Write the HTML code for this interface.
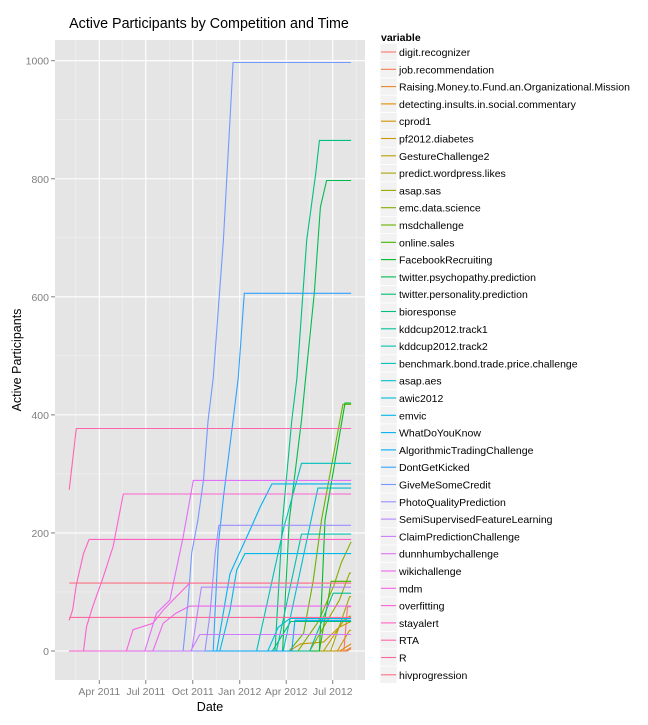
<!DOCTYPE html>
<html><head><meta charset="utf-8"><style>
body{margin:0;background:#fff;font-family:"Liberation Sans",Arial,sans-serif;}
svg text{font-family:"Liberation Sans",Arial,sans-serif;}
</style></head><body>
<svg id="chart" width="648" height="720" xmlns="http://www.w3.org/2000/svg">
<rect width="648" height="720" fill="#fff"/>
<text x="209" y="28" text-anchor="middle" font-size="14.3" fill="#000">Active Participants by Competition and Time</text>
<rect x="55" y="40" width="310" height="640" fill="#E5E5E5"/>
<g id="grid"></g><g id="lines"></g><g id="axes"></g><g id="legend"></g>
<text x="210" y="711" text-anchor="middle" font-size="12.5" fill="#000">Date</text>
<text transform="translate(21,360) rotate(-90)" text-anchor="middle" font-size="12.5" fill="#000">Active Participants</text>
<text x="381" y="41" font-size="10.5" font-weight="bold" fill="#000">variable</text>
</svg>
<script>
const yTicks=[0,200,400,600,800,1000];
const yMinor=[100,300,500,700,900];
const xTickLabels=["Apr 2011","Jul 2011","Oct 2011","Jan 2012","Apr 2012","Jul 2012"];
const xTickDates=["2011-04-01","2011-07-01","2011-10-01","2012-01-01","2012-04-01","2012-07-01"];
const xMinorDates=["2011-02-14","2011-05-16","2011-08-16","2011-11-16","2012-02-15","2012-05-16","2012-08-16"];
const startDate="2011-02-01", endDate="2012-08-06";
const names=["digit.recognizer","job.recommendation","Raising.Money.to.Fund.an.Organizational.Mission","detecting.insults.in.social.commentary","cprod1","pf2012.diabetes","GestureChallenge2","predict.wordpress.likes","asap.sas","emc.data.science","msdchallenge","online.sales","FacebookRecruiting","twitter.psychopathy.prediction","twitter.personality.prediction","bioresponse","kddcup2012.track1","kddcup2012.track2","benchmark.bond.trade.price.challenge","asap.aes","awic2012","emvic","WhatDoYouKnow","AlgorithmicTradingChallenge","DontGetKicked","GiveMeSomeCredit","PhotoQualityPrediction","SemiSupervisedFeatureLearning","ClaimPredictionChallenge","dunnhumbychallenge","wikichallenge","mdm","overfitting","stayalert","RTA","R","hivprogression"];
const seriesDates=[
["2012-07-23","2012-07-30"],
["2012-07-30","2012-08-06"],
["2012-07-25","2012-08-06"],
["2012-07-15","2012-08-06"],
["2012-07-10","2012-08-03"],
["2012-04-07","2012-04-29","2012-06-13","2012-07-13","2012-08-06"],
["2012-06-13","2012-07-23","2012-08-03"],
["2012-06-27","2012-08-03"],
["2012-05-17","2012-07-14","2012-08-03"],
["2012-04-24","2012-06-03","2012-07-03","2012-07-18","2012-08-06"],
["2012-04-07","2012-05-05","2012-05-24","2012-06-09","2012-07-21"],
["2012-06-05","2012-06-28"],
["2012-06-05","2012-06-16","2012-07-25"],
["2012-03-25","2012-04-07","2012-05-01","2012-05-09","2012-05-26","2012-06-07","2012-06-19"],
["2012-03-05","2012-04-10"],
["2012-03-10","2012-03-25","2012-04-12","2012-04-22","2012-05-11","2012-05-29","2012-06-05"],
["2012-05-17","2012-07-02"],
["2012-03-13","2012-05-01"],
["2012-02-03","2012-03-26","2012-05-01"],
["2012-03-26","2012-06-02"],
["2012-02-25","2012-03-16","2012-04-08"],
["2011-11-23","2011-12-13","2011-12-26","2012-01-11"],
["2011-11-17","2011-12-13","2012-01-21","2012-02-10","2012-03-04"],
["2012-04-12","2012-04-18"],
["2011-11-10","2011-11-20","2011-11-30","2011-12-19","2011-12-29","2012-01-10"],
["2011-09-12","2011-09-22","2011-09-29","2011-10-11","2011-10-22","2011-10-31","2011-11-10","2011-11-30","2011-12-19"],
["2011-10-25","2011-11-04","2011-11-14","2011-11-21"],
["2011-09-29","2011-10-15","2011-10-18"],
["2011-09-27","2011-10-15"],
["2011-06-29","2011-07-22","2011-08-17","2011-09-12","2011-10-02"],
["2011-07-15","2011-08-04","2011-08-29","2011-09-25"],
["2011-05-24","2011-06-06","2011-07-15","2011-08-04","2011-08-23","2011-09-25"],
["2011-03-01","2011-03-07","2011-03-19","2011-04-09","2011-04-28","2011-05-18"],
["2011-02-01","2011-02-08","2011-02-15","2011-03-01","2011-03-12"],
["2011-02-01","2011-02-15"],
["2011-02-01"],
["2011-02-01"]];
const seriesValues=[
[0,75],[0,4],[0,6],[0,12],[0,35],[0,12,15,40,50],[0,52,59],[0,92],[0,86,132],[0,50,110,150,185],
[0,30,120,222,418],[0,118],[0,222,420],[0,222,391,462,606,752,797],[0,50],[0,222,391,462,696,810,865],
[0,98],[0,198],[0,205,318],[0,276],[0,40,55],[0,69,137,165],[0,131,205,244,283],[0,52],
[0,180,260,391,462,606],[0,86,166,222,290,391,462,696,997],[0,64,166,213],[0,92,108],[0,28],
[0,64,86,193,289],[0,47,64,76],[0,36,47,69,86,115],[0,41,75,126,177,266],[52,70,112,165,189],
[273,377],[57],[115]];

const NS="http://www.w3.org/2000/svg";
const t=s=>Date.UTC(+s.slice(0,4),+s.slice(5,7)-1,+s.slice(8,10));
const X0=t("2011-04-01"),X1=t("2012-07-01"),PX0=99.3,PX1=332.7;
const xS=s=>PX0+(t(s)-X0)/(X1-X0)*(PX1-PX0);
const yS=v=>651-v*0.5903;
function mk(tag,attrs,parent){const e=document.createElementNS(NS,tag);for(const k in attrs)e.setAttribute(k,attrs[k]);parent.appendChild(e);return e;}
function hcl(h){const L=65,C=100,hr=h*Math.PI/180;const u=C*Math.cos(hr),v=C*Math.sin(hr);
const Xn=95.047,Yn=100,Zn=108.883,d=Xn+15*Yn+3*Zn,un=4*Xn/d,vn=9*Yn/d;
const Y=Yn*Math.pow((L+16)/116,3),up=u/(13*L)+un,vp=v/(13*L)+vn;
const X=Y*9*up/(4*vp),Z=Y*(12-3*up-20*vp)/(4*vp);
const x=X/100,y=Y/100,z=Z/100;
let r=3.2406*x-1.5372*y-0.4986*z,g=-0.9689*x+1.8758*y+0.0415*z,b=0.0557*x-0.2040*y+1.0570*z;
const gm=c=>{c=c<=0.0031308?12.92*c:1.055*Math.pow(c,1/2.4)-0.055;return Math.round(Math.max(0,Math.min(1,c))*255);};
return `rgb(${gm(r)},${gm(g)},${gm(b)})`;}
const n=names.length;const colors=names.map((_,i)=>hcl(15+360*i/n));

const grid=document.getElementById('grid');
yMinor.forEach(v=>{const l=mk('line',{x1:55,x2:365,y1:yS(v),y2:yS(v),stroke:'#F2F2F2','stroke-width':0.6},grid);

});
xMinorDates.forEach(d=>{const x=xS(d);if(x<55||x>365)return;const l=mk('line',{x1:x,x2:x,y1:40,y2:680,stroke:'#F2F2F2','stroke-width':0.6},grid);

});
yTicks.forEach(v=>{const l=mk('line',{x1:55,x2:365,y1:yS(v),y2:yS(v),stroke:'#fff','stroke-width':1.1},grid);

});
xTickDates.forEach(d=>{const l=mk('line',{x1:xS(d),x2:xS(d),y1:40,y2:680,stroke:'#fff','stroke-width':1.1},grid);

});

const axes=document.getElementById('axes');
yTicks.forEach(v=>{const tk=mk('line',{x1:51,x2:55,y1:yS(v),y2:yS(v),stroke:'#7f7f7f','stroke-width':1},axes);


const tx=mk('text',{x:49,y:yS(v)+4,'text-anchor':'end','font-size':10.5,fill:'#7f7f7f'},axes);tx.textContent=v;

});
xTickDates.forEach((d,i)=>{const tk=mk('line',{x1:xS(d),x2:xS(d),y1:680,y2:684,stroke:'#7f7f7f','stroke-width':1},axes);


const tx=mk('text',{x:xS(d),y:695,'text-anchor':'middle','font-size':10.5,fill:'#7f7f7f'},axes);tx.textContent=xTickLabels[i];

});

const lines=document.getElementById('lines');
names.forEach((nm,i)=>{const ds=seriesDates[i],vs=seriesValues[i];
const pts=[];if(ds[0]!==startDate)pts.push([startDate,vs[0]]);
ds.forEach((d,j)=>pts.push([d,vs[j]]));pts.push([endDate,vs[vs.length-1]]);
const p=mk('polyline',{points:pts.map(q=>xS(q[0]).toFixed(1)+','+yS(q[1]).toFixed(1)).join(' '),fill:'none',stroke:colors[i],'stroke-width':1.1},lines);

});

const leg=document.getElementById('legend');
names.forEach((nm,i)=>{const cy=52+i*17.3;
const g=mk('g',{},leg);


mk('rect',{x:380,y:cy-8.5,width:17,height:17,fill:'#F2F2F2',stroke:'#fff','stroke-width':0.5},g);
mk('line',{x1:381,x2:396,y1:cy,y2:cy,stroke:colors[i],'stroke-width':1.1},g);
const tx=mk('text',{x:399,y:cy+4,'font-size':10.5,fill:'#000'},g);tx.textContent=nm;});
</script>
</body></html>
